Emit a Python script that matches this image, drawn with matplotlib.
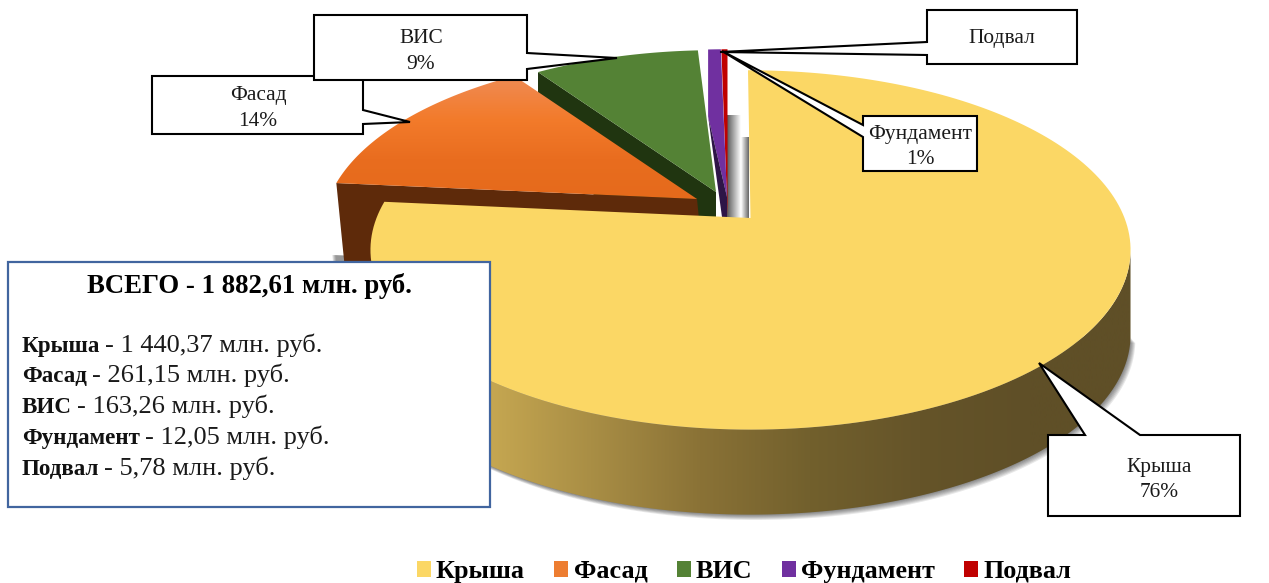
import numpy as np
import matplotlib
matplotlib.use("Agg")
import matplotlib.pyplot as plt
from matplotlib.patches import Polygon, Patch, Rectangle
from matplotlib.colors import LinearSegmentedColormap

plt.rcParams['font.family'] = ['Liberation Serif', 'DejaVu Serif']

categories = ["Крыша", "Фасад", "ВИС", "Фундамент", "Подвал"]
values = [1440.37, 261.15, 163.26, 12.05, 5.78]
callout_texts = ["Крыша\n76%", "Фасад\n14%", "ВИС\n9%", "Фундамент\n1%", "Подвал"]
total_text = "ВСЕГО - 1 882,61 млн. руб."
amount_texts = ["- 1 440,37 млн. руб.", "- 261,15 млн. руб.", "- 163,26 млн. руб.",
                "- 12,05 млн. руб.", "- 5,78 млн. руб."]
colors = ["#FBD765", "#ED7D31", "#548235", "#7030A0", "#C00000"]
wall_colors = ["#5F4F27", "#5E2A0A", "#203510", "#2E1547", "#C00000"]

W, H = 1269, 583
fig = plt.figure(figsize=(W / 100, H / 100), dpi=100)
ax = fig.add_axes([0, 0, 1, 1])
ax.set_xlim(0, W)
ax.set_ylim(H, 0)
ax.axis("off")

# perspective pie geometry
R, S, K = 374.0, 174.0, 0.1777
DEPTH = 85
apexes = [(750.5, 218), (697, 199), (716, 192), (727, 197), (727.5, 197)]
scales = [1.0, 0.985, 0.96, 1.0, 1.0]

frac = np.array(values) / np.sum(values)
edges = np.concatenate([[0], np.cumsum(frac)]) * 2 * np.pi


def rim(t, i):
    t = np.asarray(t)
    d = 1 + K * np.cos(t)
    x = apexes[i][0] + scales[i] * R * np.sin(t) / d
    if i == 0:
        x = x - 2.5 * np.maximum(np.cos(t), 0) ** 8
    return np.column_stack([x, apexes[i][1] - scales[i] * S * np.cos(t) / d])


def arc(i):
    return rim(np.linspace(edges[i], edges[i + 1], 200), i)


def wedge(i):
    return np.vstack([[apexes[i]], arc(i)])


def side(i, t, off):
    p = rim([t], i)[0]
    a = np.array(apexes[i], float)
    o = np.array(off, float)
    return np.array([a, p, p + o, a + o])


def poly(pts, color, z, **kw):
    pa = Polygon(pts, closed=True, facecolor=color, edgecolor="none", zorder=z, **kw)
    ax.add_patch(pa)
    return pa


def gradient(pts, cols, extent, z, vertical=False):
    pa = poly(pts, "none", z)
    cmap = LinearSegmentedColormap.from_list("g", cols)
    arr = np.linspace(0, 1, 256)
    arr = arr[:, None] if vertical else arr[None, :]
    im = ax.imshow(arr, cmap=cmap, extent=extent, aspect="auto", zorder=z, interpolation="bilinear")
    im.set_clip_path(pa)
    ax.set_xlim(0, W)
    ax.set_ylim(H, 0)
    return im


# grey shadow behind the thin slices
for ext, cols, z in [((727, 741, 218, 115), ["#5a5a5a", "#ffffff"], 1),
                     ((741, 749, 218, 137), ["#ffffff", "#666666"], 1)]:
    ax.imshow(np.linspace(0, 1, 64)[None, :],
              cmap=LinearSegmentedColormap.from_list("s", cols),
              extent=ext, aspect="auto", zorder=z)
ax.set_xlim(0, W)
ax.set_ylim(H, 0)

# soft shadow below the pie
ts_sh = np.linspace(np.radians(101), np.radians(262), 300)
for n in range(7):
    poly(rim(ts_sh, 0) + [n * 0.8, DEPTH + n * 0.9], "#000000", 2, alpha=0.09)

# thin slices
red_i, pur_i = 4, 3
a4 = np.array(apexes[red_i], float)
poly(np.vstack([arc(red_i), [a4 + [0, 19]]]), colors[red_i], 3)
p0 = rim([edges[pur_i]], pur_i)[0]
a3 = np.array(apexes[pur_i], float)
poly(np.vstack([arc(pur_i), [a3], [p0 + [0, 67]]]), colors[pur_i], 4)
poly([p0 + [0, 67], a3, a3 + [0, 20], a3 + [-5, 20]], wall_colors[pur_i], 4)

# green
poly(side(2, edges[2], (0, DEPTH)), wall_colors[2], 5)
poly(wedge(2), colors[2], 6)

# orange
wall = side(1, edges[1], (8, 80))
for n in range(4):
    poly(wall + [-1 - n, 72], "#000000", 6.5, alpha=0.12)
poly(wall, wall_colors[1], 7)
gradient(wedge(1), ["#EF8A52", "#F37B2B", "#E96D1F", "#E56A1B"], (300, 720, 200, 78), 8, vertical=True)

# yellow
ts0 = np.linspace(np.radians(101), edges[1], 500)
top = rim(ts0, 0)
wall_y = np.vstack([top, (top + [0, DEPTH])[::-1]])
gradient(wall_y, ["#C8A952", "#A98E45", "#8A7236", "#72602D", "#655429", "#5F4F27", "#5F4F27"],
         (480, 1140, 600, 0), 9)
poly(wedge(0), colors[0], 10)


# callouts
def callout(box, pointer, text, z=12, tc=None, fs=15.4):
    l, t, r, b = box
    side_, p1, tip, p2 = pointer
    if side_ == "right":
        pts = [(l, t), (r, t), (r, p1), tip, (r, p2), (r, b), (l, b)]
    elif side_ == "left":
        pts = [(l, t), (r, t), (r, b), (l, b), (l, p2), tip, (l, p1)]
    else:  # top
        pts = [(l, t), (p1, t), tip, (p2, t), (r, t), (r, b), (l, b)]
    ax.add_patch(Polygon(pts, closed=True, facecolor="white", edgecolor="black",
                         linewidth=1.5, zorder=z, joinstyle="miter"))
    c = tc if tc else ((l + r) / 2, (t + b) / 2)
    ax.text(c[0], c[1], text, ha="center", va="center", fontsize=fs, zorder=z + 1,
            color="#1a1a1a", linespacing=1.45)


callout((1048, 435, 1240, 516), ("top", 1085, (1039, 363), 1140), callout_texts[0], tc=(1159, 480))
callout((152, 76, 363, 134), ("right", 110, (410, 122), 124), callout_texts[1], z=11, tc=(258, 108.5))
callout((314, 15, 527, 80), ("right", 53, (617, 58), 69), callout_texts[2], z=13, tc=(421, 51.5))
callout((863, 116, 977, 171), ("left", 125, (722, 51), 137), callout_texts[3], z=12, tc=(920, 147))
callout((927, 10, 1077, 64), ("left", 42, (720, 52), 55), callout_texts[4], z=13, tc=(1002, 39))

# info box
ax.add_patch(Rectangle((8, 262), 482, 245, facecolor="white", edgecolor="#41659F",
                       linewidth=1.6, zorder=20))
ax.text(249, 293, total_text, ha="center", va="baseline", fontsize=19.3, fontweight="bold",
        color="black", zorder=21)
rend = fig.canvas.get_renderer()
inv = ax.transData.inverted()
for name, amount, y in zip(categories, amount_texts, [352, 382, 413, 444, 475]):
    t = ax.text(22, y, name, ha="left", va="baseline", fontsize=16.6, fontweight="bold",
                color="#111111", zorder=21)
    x1 = inv.transform(t.get_window_extent(rend).get_points())[1, 0]
    ax.text(x1 + 5, y, amount, ha="left", va="baseline", fontsize=19,
            color="#1a1a1a", zorder=21)

# legend
handles = [Patch(facecolor=c, edgecolor="none", label=n) for c, n in zip(colors, categories)]
leg = ax.legend(handles=handles, loc="center", bbox_to_anchor=(744 / W, 1 - 571.5 / H), ncol=5,
                frameon=False, prop={"size": 18.8, "weight": "bold"}, handlelength=0.54,
                handleheight=0.54, handletextpad=0.2, columnspacing=1.12, borderpad=0)
leg.set_zorder(25)

fig.savefig("out.png", dpi=100)
